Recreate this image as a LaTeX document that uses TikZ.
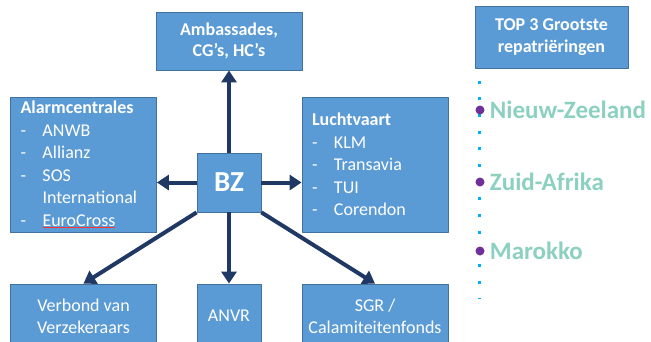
\documentclass[tikz,border=0pt]{standalone}
\usepackage{fontspec}
\setmainfont{Carlito}
\usetikzlibrary{arrows.meta,positioning}
\definecolor{boxblauw}{HTML}{5B9BD5}
\definecolor{boxrand}{HTML}{41719C}
\definecolor{pijlblauw}{HTML}{203864}
\definecolor{stippelblauw}{HTML}{00B0F0}
\definecolor{paars}{HTML}{70309A}
\definecolor{landgroen}{HTML}{8CD0C0}
\newcommand{\streep}[1]{\makebox[22pt][l]{-}#1}
\tikzset{
  box/.style={draw=boxrand, line width=.8pt, fill=boxblauw, text=white, inner sep=0pt, align=center, font=\fontsize{18}{22}\selectfont},
  lijstbox/.style={box, align=left, inner xsep=10pt, text width=126pt, minimum height=135pt, font=\fontsize{18}{22.5}\selectfont},
  pijl/.style={draw=pijlblauw, line width=4pt, -{Triangle[length=12pt,width=15pt]}},
  punt/.style={circle, fill=paars, inner sep=0pt, minimum size=9pt},
  land/.style={text=landgroen, font=\fontsize{25}{30}\selectfont\bfseries, inner sep=0pt}
}
\begin{document}
\begin{tikzpicture}[x=1pt, y=-1pt, line join=round]
  \useasboundingbox (0,0) rectangle (651,341);
  \clip (0,0) rectangle (651,341);
  % midden
  \node[box, minimum width=64pt, minimum height=59pt, font=\fontsize{29}{30}\selectfont\bfseries] (bz) at (229,182.5) {BZ};
  % boven
  \node[box, minimum width=146pt, minimum height=58pt, font=\fontsize{18}{21}\selectfont\bfseries] (amb) at (229,41) {Ambassades,\\CG’s, HC’s};
  % links en rechts
  \node[lijstbox] (alarm) at (83.5,164.5) {\textbf{Alarmcentrales}\\ \streep{ANWB}\\ \streep{Allianz}\\ \streep{SOS}\\ \hspace*{22pt}International\\ \streep{{\color{red!80}\underline{\textcolor{white}{EuroCross}}}}};
  \node[lijstbox] (lucht) at (375,164.5) {\textbf{Luchtvaart}\\ \streep{KLM}\\ \streep{Transavia}\\ \streep{TUI}\\ \streep{Corendon}};
  % onder
  \node[box, minimum width=146pt, minimum height=64pt] (verbond) at (83.5,316) {Verbond van\\Verzekeraars};
  \node[box, minimum width=64pt, minimum height=64pt] (anvr) at (229,316) {ANVR};
  \node[box, minimum width=146pt, minimum height=64pt] (sgr) at (375,316) {SGR /\\Calamiteitenfonds};
  % pijlen vanuit BZ
  \draw[pijl] (bz) -- (amb);
  \draw[pijl] (bz.west) -- (bz.west -| alarm.east);
  \draw[pijl] (bz.east) -- (bz.east -| lucht.west);
  \draw[pijl] (bz) -- (anvr);
  \draw[pijl] (bz.south west) -- (verbond.north);
  \draw[pijl] (bz.south east) -- (sgr.north);
  % top 3
  \node[box, minimum width=153pt, minimum height=62pt, font=\fontsize{18}{22}\selectfont\bfseries] (top) at (551.5,37) {TOP 3 Grootste\\repatriëringen};
  \coordinate (lijnboven) at (479,80.5);
  \coordinate (lijnonder) at (479,299);
  \draw[stippelblauw, line width=3pt, dash pattern=on 3pt off 13.7pt] (lijnboven) -- (lijnonder);
  \node[punt] (nz) at (480,110) {};
  \node[land, right=5pt of nz] (nzlabel) {Nieuw-Zeeland};
  \node[punt] (za) at (480,182) {};
  \node[land, right=5pt of za] (zalabel) {Zuid-Afrika};
  \node[punt] (ma) at (480,251) {};
  \node[land, right=5pt of ma] (malabel) {Marokko};
\end{tikzpicture}
\end{document}
